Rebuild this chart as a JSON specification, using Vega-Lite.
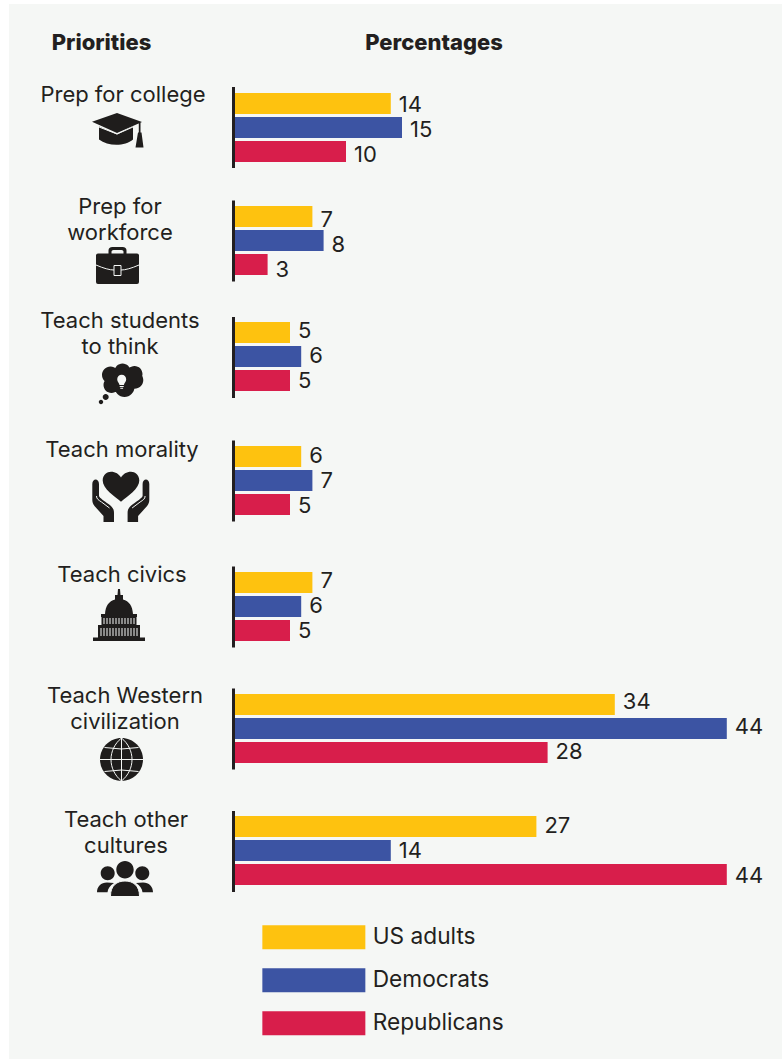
{
  "$schema": "https://vega.github.io/schema/vega-lite/v6.json",
  "width": 773,
  "height": 1055,
  "autosize": "none",
  "padding": {"left": 9, "top": 4, "right": 0, "bottom": 0},
  "background": "#ffffff",
  "view": {"fill": "#f5f7f5", "stroke": null},
  "datasets": {
    "shares": [
      {"group": 1, "priority": "Prep for college", "series": "US adults", "value": 14},
      {"group": 1, "priority": "Prep for college", "series": "Democrats", "value": 15},
      {"group": 1, "priority": "Prep for college", "series": "Republicans", "value": 10},
      {"group": 2, "priority": "Prep for workforce", "series": "US adults", "value": 7},
      {"group": 2, "priority": "Prep for workforce", "series": "Democrats", "value": 8},
      {"group": 2, "priority": "Prep for workforce", "series": "Republicans", "value": 3},
      {"group": 3, "priority": "Teach students to think", "series": "US adults", "value": 5},
      {"group": 3, "priority": "Teach students to think", "series": "Democrats", "value": 6},
      {"group": 3, "priority": "Teach students to think", "series": "Republicans", "value": 5},
      {"group": 4, "priority": "Teach morality", "series": "US adults", "value": 6},
      {"group": 4, "priority": "Teach morality", "series": "Democrats", "value": 7},
      {"group": 4, "priority": "Teach morality", "series": "Republicans", "value": 5},
      {"group": 5, "priority": "Teach civics", "series": "US adults", "value": 7},
      {"group": 5, "priority": "Teach civics", "series": "Democrats", "value": 6},
      {"group": 5, "priority": "Teach civics", "series": "Republicans", "value": 5},
      {"group": 6, "priority": "Teach Western civilization", "series": "US adults", "value": 34},
      {"group": 6, "priority": "Teach Western civilization", "series": "Democrats", "value": 44},
      {"group": 6, "priority": "Teach Western civilization", "series": "Republicans", "value": 28},
      {"group": 7, "priority": "Teach other cultures", "series": "US adults", "value": 27},
      {"group": 7, "priority": "Teach other cultures", "series": "Democrats", "value": 14},
      {"group": 7, "priority": "Teach other cultures", "series": "Republicans", "value": 44}
    ],
    "priorities": [
      {"group": 1, "icon": "cap", "label": "Prep for college"},
      {"group": 2, "icon": "briefcase", "label": "Prep for\nworkforce"},
      {"group": 3, "icon": "thought", "label": "Teach students\nto think"},
      {"group": 4, "icon": "hands", "label": "Teach morality"},
      {"group": 5, "icon": "capitol", "label": "Teach civics"},
      {"group": 6, "icon": "globe", "label": "Teach Western\ncivilization"},
      {"group": 7, "icon": "people", "label": "Teach other\ncultures"}
    ],
    "headers": [
      {"header": "Priorities"},
      {"header": "Percentages"}
    ]
  },
  "layer": [
    {
      "data": {"name": "priorities"},
      "mark": {"type": "text", "font": "Inter", "fontSize": 22, "fill": "#231f20", "align": "center", "baseline": "alphabetic", "lineBreak": "\n", "lineHeight": 25.5},
      "encoding": {
        "x": {"field": "group", "type": "quantitative", "axis": null, "scale": {"domain": [1, 2, 3, 4, 5, 6, 7], "range": [114, 111, 111, 113, 113, 116, 117], "nice": false, "zero": false}},
        "y": {"field": "group", "type": "quantitative", "axis": null, "scale": {"domain": [1, 2, 3, 4, 5, 6, 7], "range": [98, 210, 324, 453, 578, 699, 823], "nice": false, "zero": false}},
        "text": {"field": "label", "type": "nominal"}
      }
    },
    {
      "data": {"name": "headers"},
      "mark": {"type": "text", "font": "Inter", "fontSize": 22, "fontWeight": 800, "fill": "#231f20", "align": "center", "baseline": "alphabetic"},
      "encoding": {
        "x": {"field": "header", "type": "nominal", "axis": null, "scale": {"type": "point", "domain": ["Priorities", "Percentages"], "range": [92.5, 425], "padding": 0}},
        "y": {"value": 45.5},
        "text": {"field": "header", "type": "nominal"}
      }
    },
    {
      "data": {"name": "priorities"},
      "mark": {"type": "point", "filled": true, "size": 4, "opacity": 1, "fill": "#1f1d1c", "stroke": null},
      "encoding": {
        "x": {"field": "group", "type": "quantitative", "axis": null, "scale": {"domain": [1, 2, 3, 4, 5, 6, 7], "range": [108, 108.5, 111.5, 111.5, 110, 112.5, 116], "nice": false, "zero": false}},
        "y": {"field": "group", "type": "quantitative", "axis": null, "scale": {"domain": [1, 2, 3, 4, 5, 6, 7], "range": [126.5, 261.5, 380, 493, 611, 755.5, 874.5], "nice": false, "zero": false}},
        "shape": {
          "field": "icon",
          "type": "nominal",
          "legend": null,
          "scale": {
            "domain": ["cap", "briefcase", "thought", "hands", "capitol", "globe", "people"],
            "range": [
              "M0,-17.5 L25,-8.5 L0,2.5 L-25,-8.8 Z M-18,-4 L0,4 L16,-4 L16,9 C8,16 -9,16 -18,9 Z M21.8,-8 L23.5,-8 L23.5,3 L21.8,3 Z M21,2 L24.5,2 L26.5,17 L18.5,17 Z",
              "M-19.5,-12 L19.5,-12 Q21.5,-12 21.5,-10 L21.5,16.5 Q21.5,18.5 19.5,18.5 L-19.5,18.5 Q-21.5,18.5 -21.5,16.5 L-21.5,-10 Q-21.5,-12 -19.5,-12 Z M-9,-12 L-9,-15 Q-9,-18.5 -5,-18.5 L5,-18.5 Q9,-18.5 9,-15 L9,-12 L6,-12 L6,-14 Q6,-15.5 4,-15.5 L-4,-15.5 Q-6,-15.5 -6,-14 L-6,-12 Z",
              "M-6,-12.5 a8,8 0 1,0 16,0 a8,8 0 1,0 -16,0 Z M-18.5,-9 a8.5,8.5 0 1,0 17,0 a8.5,8.5 0 1,0 -17,0 Z M6,-10 a8,8 0 1,0 16,0 a8,8 0 1,0 -16,0 Z M5.2,-4 a8.8,8.8 0 1,0 17.6,0 a8.8,8.8 0 1,0 -17.6,0 Z M-6,3 a10,10 0 1,0 20,0 a10,10 0 1,0 -20,0 Z M-17,1 a8,8 0 1,0 16,0 a8,8 0 1,0 -16,0 Z M-9,-4 a11,11 0 1,0 22,0 a11,11 0 1,0 -22,0 Z M-17.8,13 a3,3 0 1,0 6,0 a3,3 0 1,0 -6,0 Z M-21.7,18 a2.2,2.2 0 1,0 4.4,0 a2.2,2.2 0 1,0 -4.4,0 Z",
              "M0.5,4.7 C-6,-1 -17.8,-8 -17.8,-16.5 C-17.8,-22 -13.5,-25.3 -9.5,-25.3 C-5,-25.3 -1.5,-23 0.5,-19.5 C2.5,-23 6,-25.3 10.5,-25.3 C14.5,-25.3 18.8,-22 18.8,-16.5 C18.8,-8 7,-1 0.5,4.7 Z M-28.2,-13 C-28.2,-19 -21.5,-19 -21.5,-13 L-21.5,-1 C-21,1 -16,4 -12,7 C-8,10 -6.5,12 -6.5,16 L-6.5,25 L-17,25 L-17,19 L-26,9 C-27.5,7 -28.2,5 -28.2,3 Z M28.8,-13 C28.8,-19 22.1,-19 22.1,-13 L22.1,-1 C21.6,1 16.6,4 12.6,7 C8.6,10 7.1,12 7.1,16 L7.1,25 L17.6,25 L17.6,19 L26.6,9 C28.1,7 28.8,5 28.8,3 Z",
              "M-1,-26 L1,-26 L1.5,-20 L4,-20 L4,-15.5 C10,-14 13.5,-9 14,-1 L18,-1 L18,2 L17.5,2 L17.5,10 L21,10 L21,22.5 L26,22.5 L26,26 L-26,26 L-26,22.5 L-21,22.5 L-21,10 L-17.5,10 L-17.5,2 L-18,2 L-18,-1 L-14,-1 C-13.5,-9 -10,-14 -4,-15.5 L-4,-20 L-1.5,-20 Z",
              "M-21.5,0 a21.5,21.5 0 1,0 43,0 a21.5,21.5 0 1,0 -43,0 Z",
              "M-8.7,-8.8 a8.7,8.7 0 1,0 17.4,0 a8.7,8.7 0 1,0 -17.4,0 Z M-24.3,-5.2 a7,7 0 1,0 14,0 a7,7 0 1,0 -14,0 Z M10.3,-5.2 a7,7 0 1,0 14,0 a7,7 0 1,0 -14,0 Z M-14.5,17.5 C-14.5,7 -8,2.5 0,2.5 C8,2.5 14.5,7 14.5,17.5 Z M-28,13.8 C-28,8 -24,4 -18,4 L-11,4.5 C-15,7 -17,10 -17.5,13.8 Z M28,13.8 C28,8 24,4 18,4 L11,4.5 C15,7 17,10 17.5,13.8 Z"
            ]
          }
        }
      }
    },
    {
      "data": {"name": "priorities"},
      "transform": [{"filter": "datum.group === 3"}],
      "mark": {"type": "point", "filled": true, "size": 4, "opacity": 1, "fill": "#f5f7f5", "stroke": null, "shape": "M-3.3,-4.7 A4.5,4.5 0 1,1 5.7,-4.7 C5.7,-2 3.8,-1.2 3.4,1 L-1,1 C-1.4,-1.2 -3.3,-2 -3.3,-4.7 Z M-0.8,2 L3.2,2 L3.2,3 L-0.8,3 Z M-0.2,3.7 L2.6,3.7 L2.6,4.7 L-0.2,4.7 Z"},
      "encoding": {
        "x": {"field": "group", "type": "quantitative", "axis": null, "scale": {"domain": [3, 4], "range": [111.5, 112.5], "nice": false, "zero": false}},
        "y": {"field": "group", "type": "quantitative", "axis": null, "scale": {"domain": [3, 4], "range": [380, 381], "nice": false, "zero": false}}
      }
    },
    {
      "data": {"name": "priorities"},
      "mark": {"type": "point", "filled": false, "size": 4, "opacity": 1, "stroke": "#f5f7f5", "strokeWidth": 1, "fill": null},
      "encoding": {
        "x": {"field": "group", "type": "quantitative", "axis": null, "scale": {"domain": [1, 2, 3, 4, 5, 6, 7], "range": [108, 108.5, 111.5, 111.5, 110, 112.5, 116], "nice": false, "zero": false}},
        "y": {"field": "group", "type": "quantitative", "axis": null, "scale": {"domain": [1, 2, 3, 4, 5, 6, 7], "range": [126.5, 261.5, 380, 493, 611, 755.5, 874.5], "nice": false, "zero": false}},
        "shape": {
          "field": "icon",
          "type": "nominal",
          "legend": null,
          "scale": {
            "domain": ["cap", "briefcase", "thought", "hands", "capitol", "globe", "people"],
            "range": [
              "M-18,-3.5 L0,3.5 L16,-3.5",
              "M-21.5,-0.5 Q-10,4.5 -3.5,4.5 M3.5,4.5 Q10,4.5 21.5,-0.5 M-3.5,0 L3.5,0 L3.5,10 L-3.5,10 Z",
              "M0,0",
              "M-24,-1 C-24,2 -22,3 -19,5 L-11,11 M24.6,-1 C24.6,2 22.6,3 19.6,5 L11.6,11",
              "M-15,3 L-15,9 M-12,3 L-12,9 M-9,3 L-9,9 M-6,3 L-6,9 M-3,3 L-3,9 M0,3 L0,9 M3,3 L3,9 M6,3 L6,9 M9,3 L9,9 M12,3 L12,9 M15,3 L15,9 M-18,13 L-18,21 M-15,13 L-15,21 M-12,13 L-12,21 M-9,13 L-9,21 M-6,13 L-6,21 M-3,13 L-3,21 M0,13 L0,21 M3,13 L3,21 M6,13 L6,21 M9,13 L9,21 M12,13 L12,21 M15,13 L15,21 M18,13 L18,21",
              "M0,-21.5 L0,21.5 M-21.5,0 L21.5,0 M0,-21.5 C-14,-10 -14,10 0,21.5 M0,-21.5 C14,-10 14,10 0,21.5 M-17,-12 Q0,-9 17,-12 M-17,12 Q0,9 17,12",
              "M-14.5,17.5 C-14.5,7 -8,2.5 0,2.5 C8,2.5 14.5,7 14.5,17.5"
            ]
          }
        }
      }
    },
    {
      "data": {"name": "shares"},
      "encoding": {
        "x": {"field": "value", "type": "quantitative", "stack": null, "axis": null, "scale": {"domain": [0, 44], "range": [225, 717.8], "nice": false}},
        "y": {"field": "group", "type": "quantitative", "axis": null, "scale": {"domain": [1, 2, 3, 4, 5, 6, 7], "range": [123.5, 236.5, 352.5, 476.5, 602.5, 724.5, 846.5], "nice": false, "zero": false, "padding": 0}},
        "color": {
          "field": "series",
          "type": "nominal",
          "scale": {"domain": ["US adults", "Democrats", "Republicans"], "range": ["#fec20f", "#3c54a3", "#d81e4b"]},
          "legend": {
            "title": null,
            "orient": "none",
            "legendX": 293.5,
            "legendY": 922,
            "padding": 0,
            "symbolType": "M-51.5,-12 L51.5,-12 L51.5,12 L-51.5,12 Z",
            "symbolSize": 4,
            "symbolStrokeWidth": 0,
            "labelFont": "Inter",
            "labelFontSize": 22.7,
            "labelColor": "#231f20",
            "labelOffset": 47.5,
            "rowPadding": 18
          }
        }
      },
      "layer": [
        {"transform": [{"filter": "datum.series === 'US adults'"}], "mark": {"type": "bar", "orient": "horizontal", "size": 21, "yOffset": -24}},
        {"transform": [{"filter": "datum.series === 'Democrats'"}], "mark": {"type": "bar", "orient": "horizontal", "size": 21}},
        {"transform": [{"filter": "datum.series === 'Republicans'"}], "mark": {"type": "bar", "orient": "horizontal", "size": 21, "yOffset": 24}}
      ]
    },
    {
      "data": {"name": "priorities"},
      "mark": {"type": "tick", "orient": "vertical", "size": 81, "thickness": 3, "color": "#231f20", "opacity": 1},
      "encoding": {
        "x": {"datum": 0, "type": "quantitative", "axis": null, "scale": {"domain": [0, 44], "range": [224.5, 717.3], "nice": false}},
        "y": {"field": "group", "type": "quantitative", "axis": null, "scale": {"domain": [1, 2, 3, 4, 5, 6, 7], "range": [123.5, 237, 353.5, 477, 603, 725, 847.5], "nice": false, "zero": false, "padding": 0}}
      }
    },
    {
      "data": {"name": "shares"},
      "encoding": {
        "x": {"field": "value", "type": "quantitative", "stack": null, "axis": null, "scale": {"domain": [0, 44], "range": [225, 717.8], "nice": false}},
        "y": {"field": "group", "type": "quantitative", "axis": null, "scale": {"domain": [1, 2, 3, 4, 5, 6, 7], "range": [125.5, 241, 351.5, 477, 602, 723, 847], "nice": false, "zero": false}},
        "text": {"field": "value", "type": "quantitative"}
      },
      "layer": [
        {"transform": [{"filter": "datum.series === 'US adults'"}], "mark": {"type": "text", "font": "Inter", "fontSize": 22, "fill": "#231f20", "align": "left", "baseline": "middle", "dx": 8, "yOffset": -25}},
        {"transform": [{"filter": "datum.series === 'Democrats'"}], "mark": {"type": "text", "font": "Inter", "fontSize": 22, "fill": "#231f20", "align": "left", "baseline": "middle", "dx": 8}},
        {"transform": [{"filter": "datum.series === 'Republicans'"}], "mark": {"type": "text", "font": "Inter", "fontSize": 22, "fill": "#231f20", "align": "left", "baseline": "middle", "dx": 8, "yOffset": 25}}
      ]
    }
  ],
  "resolve": {"scale": {"x": "independent", "y": "independent", "shape": "independent"}}
}
